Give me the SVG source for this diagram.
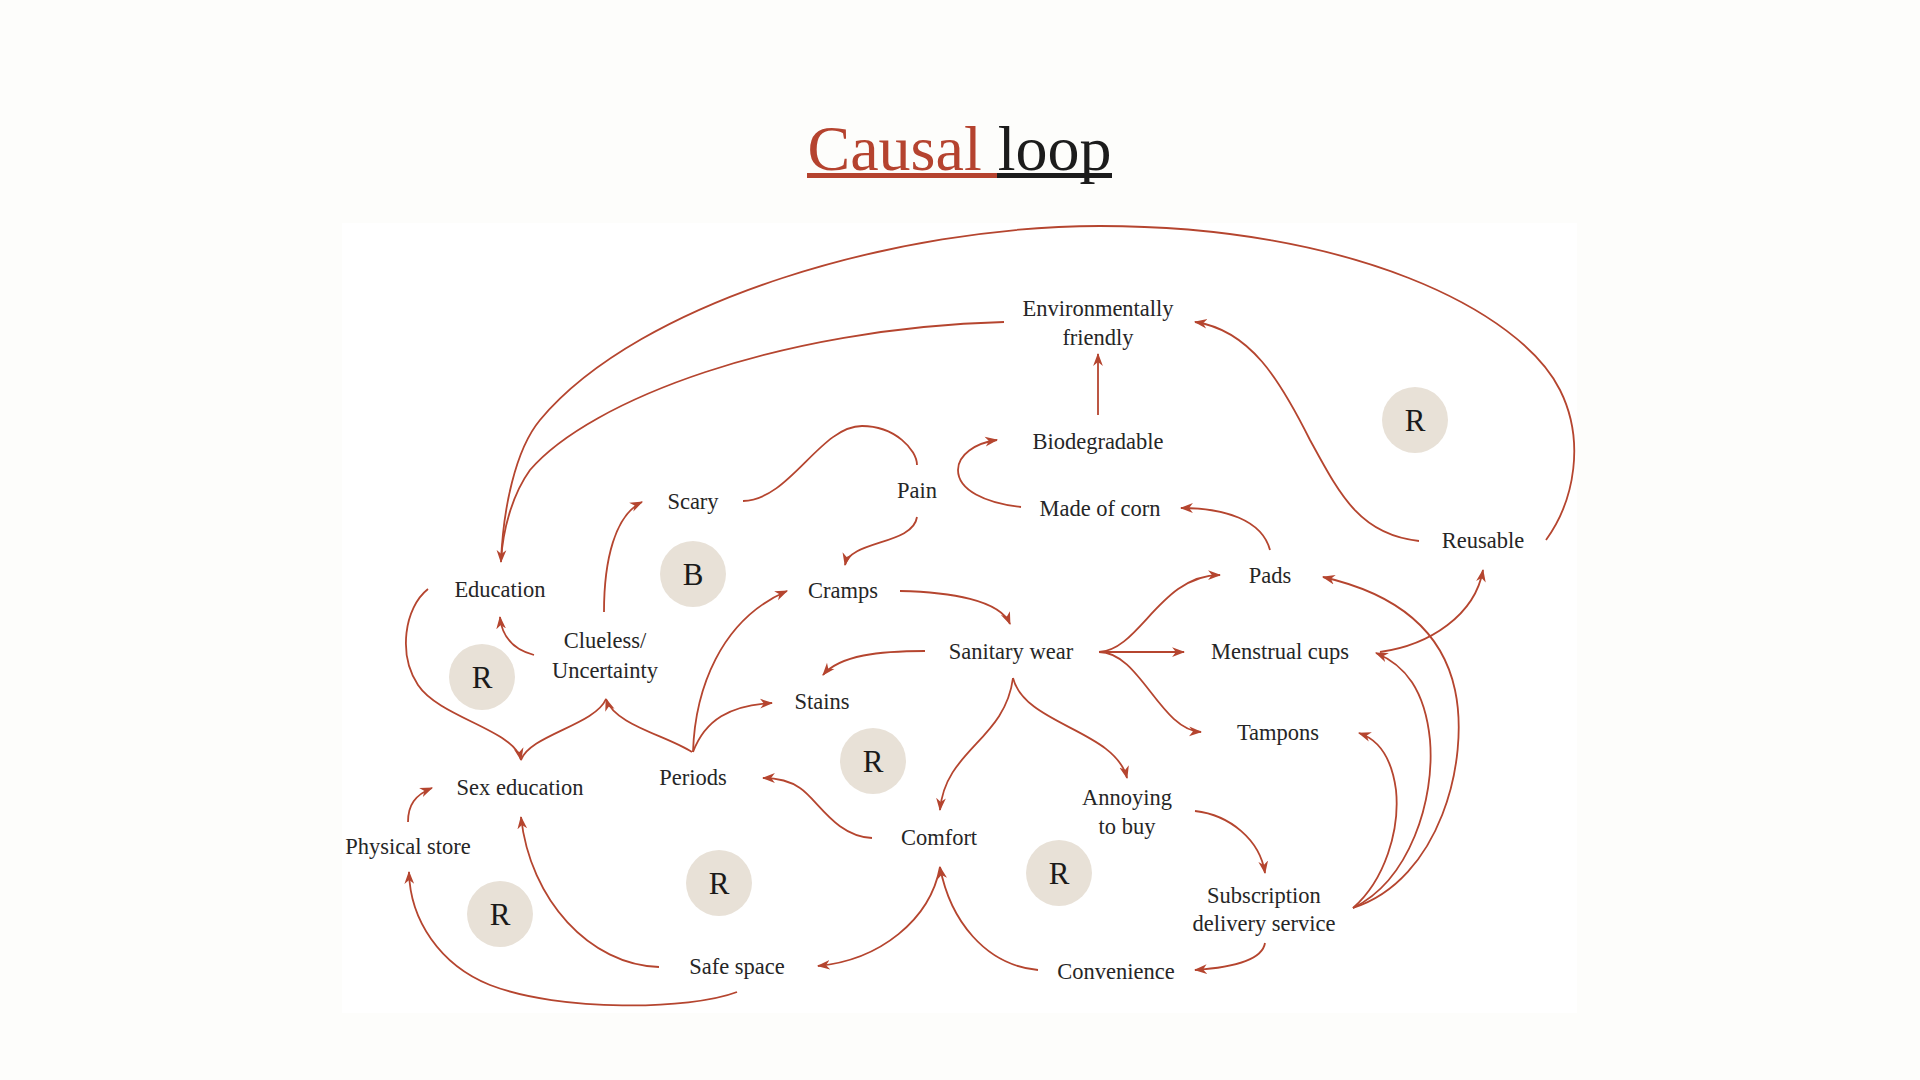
<svg xmlns="http://www.w3.org/2000/svg" width="1920" height="1080" viewBox="0 0 1920 1080">
<defs>
<marker id="arr" viewBox="0 0 12 10" refX="11" refY="5" markerWidth="13" markerHeight="11" markerUnits="userSpaceOnUse" orient="auto">
<path d="M0,0.5 L12,5 L0,9.5 L3.5,5 z" fill="#b5452f"/>
</marker>
<style>
.lbl{font-family:"Liberation Serif",serif;font-size:22.5px;fill:#262626;text-anchor:middle}
.loop circle{fill:#e8e1d7}
.loop text{font-family:"Liberation Serif",serif;font-size:31px;fill:#1a1a1a;text-anchor:middle}
.c{fill:none;stroke:#b5452f;stroke-width:1.8}
.a{marker-end:url(#arr)}
</style>
</defs>
<rect x="0" y="0" width="1920" height="1080" fill="#fdfdfb"/>
<rect x="342" y="223" width="1235" height="790" fill="#ffffff"/>

<g id="title">
<text x="959.5" y="170" font-family="Liberation Serif, serif" font-size="64" text-anchor="middle"><tspan fill="#b5432f">Causal </tspan><tspan fill="#1c1c1c">loop</tspan></text>
<rect x="807" y="173" width="190" height="5" fill="#b5432f"/>
<rect x="997" y="173" width="115" height="5" fill="#1c1c1c"/>
</g>

<g id="connectors">
<path class="c a" d="M1546,540 C1575,500 1585,440 1560,390 C1520,310 1350,226 1100,226 C900,226 640,300 540,420 C515,450 503,510 501,562"/>
<path class="c" d="M1004,322 C780,328 590,400 530,470 C512,495 503,530 501,560"/>
<path class="c a" d="M1098,415 L1098,354"/>
<path class="c a" d="M1021,507 C985,503 958,490 958,470 C958,455 975,443 997,440"/>
<path class="c a" d="M1270,550 C1262,520 1225,508 1181,508"/>
<path class="c a" d="M1419,541 C1360,535 1340,495 1310,440 C1280,380 1250,330 1195,322"/>
<path class="c" d="M743,501 C790,500 820,426 862,426 C895,426 917,450 917,465"/>
<path class="c a" d="M917,517 C913,545 850,540 845,565"/>
<path class="c a" d="M604,612 C604,560 615,515 642,502"/>
<path class="c a" d="M534,655 C515,650 502,638 500,617"/>
<path class="c a" d="M428,589 C404,608 398,655 418,685 C440,718 515,730 521,760"/>
<path class="c a" d="M692,752 C665,735 615,725 606,699"/>
<path class="c" d="M606,699 C595,725 530,735 521,760"/>
<path class="c a" d="M693,752 C695,690 720,620 787,591"/>
<path class="c a" d="M693,752 C705,720 730,705 772,703"/>
<path class="c a" d="M925,651 C880,651 840,655 823,675"/>
<path class="c a" d="M900,591 C950,592 1000,600 1010,624"/>
<path class="c a" d="M1013,678 C1005,740 945,750 940,810"/>
<path class="c a" d="M1013,678 C1025,725 1115,730 1127,778"/>
<path class="c a" d="M1099,652 C1140,650 1160,575 1220,575"/>
<path class="c a" d="M1099,652 L1184,652"/>
<path class="c a" d="M1099,652 C1140,652 1160,730 1201,732"/>
<path class="c a" d="M1353,908 C1440,880 1470,760 1455,690 C1440,620 1380,590 1323,577"/>
<path class="c a" d="M1353,908 C1410,880 1435,800 1430,740 C1425,690 1405,665 1376,653"/>
<path class="c a" d="M1353,908 C1385,880 1400,830 1396,790 C1392,760 1380,740 1359,733"/>
<path class="c a" d="M1380,652 C1430,645 1475,615 1483,570"/>
<path class="c a" d="M1195,811 C1230,815 1260,840 1265,873"/>
<path class="c a" d="M1265,943 C1262,962 1225,968 1195,970"/>
<path class="c a" d="M1038,970 C985,965 950,920 940,867"/>
<path class="c a" d="M940,867 C930,920 880,960 818,966"/>
<path class="c a" d="M872,838 C835,836 818,800 800,788 C790,781 778,778 763,778"/>
<path class="c a" d="M659,967 C590,965 530,900 521,817"/>
<path class="c a" d="M737,992 C690,1010 560,1012 490,985 C440,965 410,920 409,872"/>
<path class="c a" d="M408,822 C408,805 415,795 432,788"/>
</g>

<g id="loops" class="loop">
<g id="loop-r1"><circle cx="1415" cy="420" r="33"/><text x="1415" y="431">R</text></g>
<g id="loop-b"><circle cx="693" cy="574" r="33"/><text x="693" y="585">B</text></g>
<g id="loop-r2"><circle cx="482" cy="677" r="33"/><text x="482" y="688">R</text></g>
<g id="loop-r3"><circle cx="873" cy="761" r="33"/><text x="873" y="772">R</text></g>
<g id="loop-r4"><circle cx="719" cy="883" r="33"/><text x="719" y="894">R</text></g>
<g id="loop-r5"><circle cx="1059" cy="873" r="33"/><text x="1059" y="884">R</text></g>
<g id="loop-r6"><circle cx="500" cy="914" r="33"/><text x="500" y="925">R</text></g>
</g>

<g id="n-env"><text class="lbl" x="1098" y="316">Environmentally</text><text class="lbl" x="1098" y="345">friendly</text></g>
<g id="n-bio"><text class="lbl" x="1098" y="449">Biodegradable</text></g>
<g id="n-corn"><text class="lbl" x="1100" y="516">Made of corn</text></g>
<g id="n-scary"><text class="lbl" x="693" y="509">Scary</text></g>
<g id="n-pain"><text class="lbl" x="917" y="498">Pain</text></g>
<g id="n-education"><text class="lbl" x="500" y="597">Education</text></g>
<g id="n-cramps"><text class="lbl" x="843" y="598">Cramps</text></g>
<g id="n-pads"><text class="lbl" x="1270" y="583">Pads</text></g>
<g id="n-reusable"><text class="lbl" x="1483" y="548">Reusable</text></g>
<g id="n-clueless"><text class="lbl" x="605" y="648">Clueless/</text><text class="lbl" x="605" y="678">Uncertainty</text></g>
<g id="n-sanitary"><text class="lbl" x="1011" y="659">Sanitary wear</text></g>
<g id="n-cups"><text class="lbl" x="1280" y="659">Menstrual cups</text></g>
<g id="n-stains"><text class="lbl" x="822" y="709">Stains</text></g>
<g id="n-tampons"><text class="lbl" x="1278" y="740">Tampons</text></g>
<g id="n-periods"><text class="lbl" x="693" y="785">Periods</text></g>
<g id="n-sexed"><text class="lbl" x="520" y="795">Sex education</text></g>
<g id="n-annoying"><text class="lbl" x="1127" y="805">Annoying</text><text class="lbl" x="1127" y="834">to buy</text></g>
<g id="n-comfort"><text class="lbl" x="939" y="845">Comfort</text></g>
<g id="n-store"><text class="lbl" x="408" y="854">Physical store</text></g>
<g id="n-subscription"><text class="lbl" x="1264" y="903">Subscription</text><text class="lbl" x="1264" y="931">delivery service</text></g>
<g id="n-safe"><text class="lbl" x="737" y="974">Safe space</text></g>
<g id="n-convenience"><text class="lbl" x="1116" y="979">Convenience</text></g>
</svg>
